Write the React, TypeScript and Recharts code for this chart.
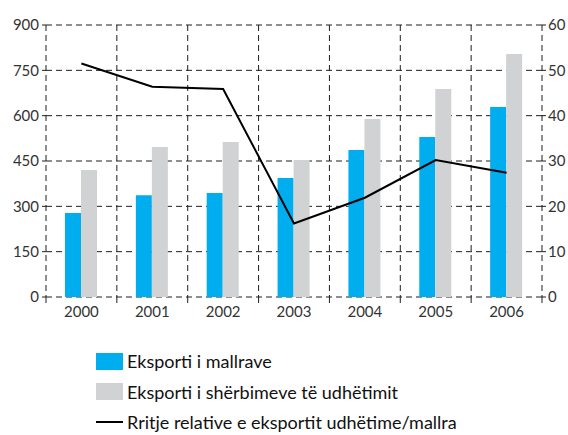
import React from "react";
import {
  ComposedChart,
  Bar,
  Line,
  XAxis,
  YAxis,
  CartesianGrid,
  Legend,
} from "recharts";

const years = ["2000", "2001", "2002", "2003", "2004", "2005", "2006"];
const goodsExports = [278, 337, 344, 394, 486, 529, 629];
const travelExports = [420, 496, 513, 453, 589, 688, 804];
const relativeGrowth = [51.5, 46.4, 45.9, 16.2, 21.9, 30.2, 27.4];
const leftTicks = [0, 150, 300, 450, 600, 750, 900];
const rightTicks = [0, 10, 20, 30, 40, 50, 60];

const data = years.map((year, i) => ({
  year,
  goods: goodsExports[i],
  travel: travelExports[i],
  growth: relativeGrowth[i],
}));

const W = 568;
const H = 435;
const LEFT_W = 46;
const RIGHT_W = 26;
const BAND = (W - LEFT_W - RIGHT_W) / years.length;
const GRID = "#1e1e1e";
const TEXT = "#333";

// vertical grid lines sit on the category boundaries, not the centres
const boundaryLines = ({ offset }: any) =>
  years.map((_, i) => offset.left + (i * offset.width) / years.length).concat(offset.left + offset.width);

const YearTick = (props: any) => {
  const { x, y, payload, index } = props;
  return (
    <g>
      <line x1={x - BAND / 2} x2={x - BAND / 2} y1={y} y2={y + 8} stroke={GRID} strokeDasharray="6 4" />
      {index === years.length - 1 && (
        <line x1={x + BAND / 2} x2={x + BAND / 2} y1={y} y2={y + 8} stroke={GRID} strokeDasharray="6 4" />
      )}
      <text x={x} y={y + 20} textAnchor="middle" fill={TEXT} fontSize={15}>
        {payload.value}
      </text>
    </g>
  );
};

const LegendBox = (props: any) => {
  const { payload } = props;
  return (
    <div style={{ fontFamily: "Lato", fontSize: 18, color: "#111" }}>
      {(payload || []).map((item: any, i: number) => (
        <div key={i} style={{ display: "flex", alignItems: "center", height: 30.5 }}>
          {item.type === "line" ? (
            <span style={{ display: "inline-block", width: 27, height: 2, background: item.color }} />
          ) : (
            <span style={{ display: "inline-block", width: 27, height: 17, background: item.color }} />
          )}
          <span style={{ marginLeft: 4 }}>{item.value}</span>
        </div>
      ))}
    </div>
  );
};

export default function App() {
  return (
    <div style={{ position: "absolute", left: 0, top: 0, width: W, height: H, background: "#fff" }}>
      <ComposedChart
        width={W}
        height={H}
        data={data}
        margin={{ top: 25, right: 0, left: 0, bottom: 108 }}
        barGap={0}
        style={{ fontFamily: "Lato" }}
      >
        <CartesianGrid
          yAxisId="left"
          stroke={GRID}
          strokeDasharray="6 4"
          verticalCoordinatesGenerator={boundaryLines}
        />
        <XAxis
          dataKey="year"
          height={30}
          axisLine={false}
          tickLine={false}
          tickSize={0}
          tickMargin={0}
          tick={<YearTick />}
          interval={0}
        />
        <YAxis
          yAxisId="left"
          width={LEFT_W}
          domain={[0, 900]}
          ticks={leftTicks}
          axisLine={false}
          tickLine={{ stroke: GRID }}
          tickSize={4}
          tickMargin={3}
          tick={{ fill: TEXT, fontSize: 15 }}
          interval={0}
        />
        <YAxis
          yAxisId="right"
          orientation="right"
          width={RIGHT_W}
          domain={[0, 60]}
          ticks={rightTicks}
          axisLine={false}
          tickLine={{ stroke: GRID }}
          tickSize={4}
          tickMargin={2}
          tick={{ fill: TEXT, fontSize: 15 }}
          interval={0}
        />
        <Bar
          yAxisId="left"
          dataKey="goods"
          name="Eksporti i mallrave"
          fill="#00AEEF"
          barSize={16}
          legendType="rect"
          isAnimationActive={false}
        />
        <Bar
          yAxisId="left"
          dataKey="travel"
          name="Eksporti i shërbimeve të udhëtimit"
          fill="#D1D2D4"
          barSize={16}
          legendType="rect"
          isAnimationActive={false}
        />
        <Line
          yAxisId="right"
          dataKey="growth"
          name="Rritje relative e eksportit udhëtime/mallra"
          type="linear"
          stroke="#000"
          strokeWidth={2}
          dot={false}
          legendType="line"
          isAnimationActive={false}
        />
        <Legend
          layout="horizontal"
          verticalAlign="middle"
          align="center"
          content={<LegendBox />}
          wrapperStyle={{ top: 346, left: 96, width: 460 }}
        />
      </ComposedChart>
    </div>
  );
}
